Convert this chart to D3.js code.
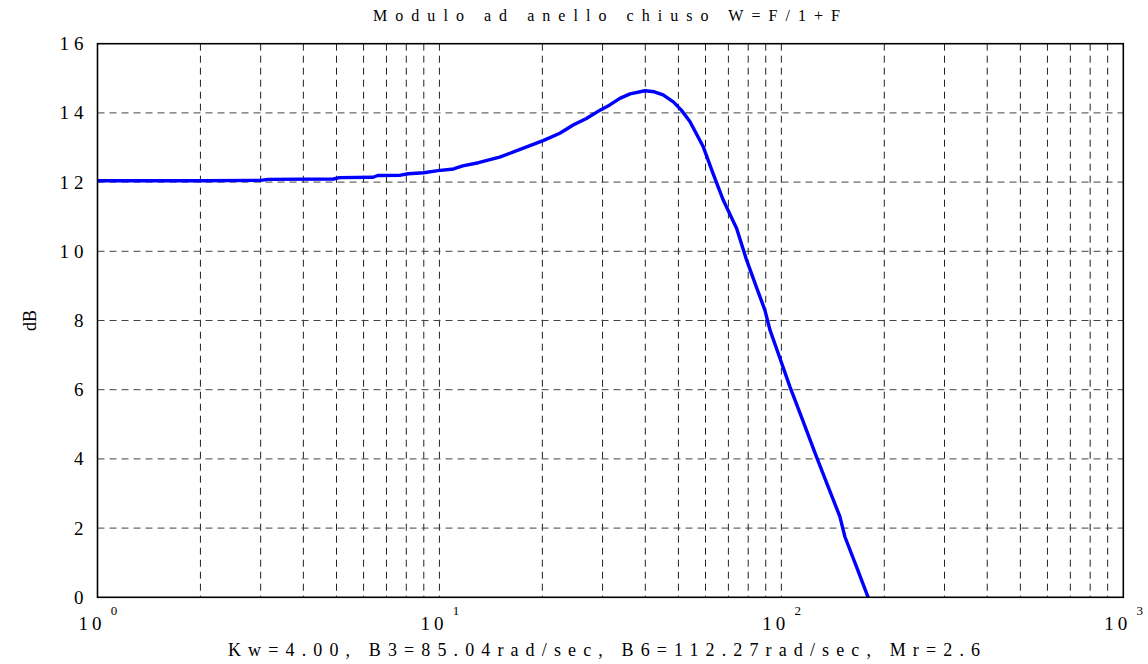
<!DOCTYPE html>
<html>
<head>
<meta charset="utf-8">
<script src="https://cdn.jsdelivr.net/npm/d3@7"></script>
<style>
  html, body { margin: 0; padding: 0; background: #fff; }
  svg { display: block; }
</style>
</head>
<body>
<svg id="chart" width="1148" height="664"></svg>
<script>
// ---- data ----
const freq = [1, 2, 3, 3.15, 4.9, 5.1, 6.4, 6.6, 7.7, 8.1, 9, 9.9, 11, 11.7, 13, 15, 17.6, 20.1, 22.5, 24.6, 26.9, 29.5, 31.5, 33.7, 36.1, 39.9, 42.5, 45.1, 48.3, 51, 54, 59.1, 63.1, 67.6, 74, 79.1, 85, 89.5, 92.6, 98, 105.9, 116, 126.7, 138, 148.3, 153.4, 166, 179.4];
const dB = [12.04, 12.04, 12.05, 12.08, 12.09, 12.13, 12.14, 12.19, 12.2, 12.24, 12.27, 12.33, 12.38, 12.47, 12.56, 12.72, 12.98, 13.2, 13.41, 13.65, 13.84, 14.08, 14.23, 14.42, 14.55, 14.64, 14.61, 14.52, 14.32, 14.08, 13.75, 13.02, 12.25, 11.48, 10.66, 9.75, 8.9, 8.3, 7.73, 7.04, 6.09, 5.06, 4.06, 3.12, 2.33, 1.75, 0.87, 0.0];
const yTicks = [0, 2, 4, 6, 8, 10, 12, 14, 16];
const xMajor = [1, 10, 100, 1000];
const xExponents = ["0", "1", "2", "3"];
const titleText = "Modulo ad anello chiuso W=F/1+F";
const xLabelText = "Kw=4.00, B3=85.04rad/sec, B6=112.27rad/sec, Mr=2.6";
const yLabelText = "dB";

const FONT = "Liberation Serif";

// ---- layout ----
const L = 97.5, R = 1123.3, T = 43.7, B = 597.3;
const svg = d3.select("#chart");
const x = d3.scaleLog().domain([1, 1000]).range([L, R]);
const y = d3.scaleLinear().domain([0, 16]).range([B, T]);

const xGrid = [];
for (let dec = 1; dec < 1000; dec *= 10) {
  for (let m = 1; m <= 9; m++) {
    const v = dec * m;
    if (v > 1 && v < 1000) xGrid.push(v);
  }
}

const grid = svg.append("g");
grid.selectAll("line.v").data(xGrid).enter().append("line")
  .attr("x1", d => x(d)).attr("x2", d => x(d))
  .attr("y1", T).attr("y2", B)
  .attr("stroke", "#222").attr("stroke-width", 1)
  .attr("stroke-dasharray", "7,5");
grid.selectAll("line.h").data(yTicks.filter(d => d > 0 && d < 16)).enter().append("line")
  .attr("x1", L).attr("x2", R)
  .attr("y1", d => y(d)).attr("y2", d => y(d))
  .attr("stroke", "#444").attr("stroke-width", 1)
  .attr("stroke-dasharray", "7,5");

// curve
const line = d3.line().x((d, i) => x(freq[i])).y(d => y(d));
svg.append("path").datum(dB)
  .attr("d", line)
  .attr("fill", "none")
  .attr("stroke", "#0000ff")
  .attr("stroke-width", 3.4)
  .attr("stroke-linejoin", "round");

// box
svg.append("rect")
  .attr("x", L).attr("y", T).attr("width", R - L).attr("height", B - T)
  .attr("fill", "none").attr("stroke", "#000").attr("stroke-width", 1.6);

// y axis labels
const yAxis = d3.axisLeft(y).tickValues(yTicks).tickSize(0).tickPadding(14)
  .tickFormat(d3.format("d"));
const gy = svg.append("g").attr("transform", `translate(${L},0)`).call(yAxis)
  .attr("font-family", FONT).attr("font-size", 19);
gy.select(".domain").remove();
gy.selectAll("text")
  .attr("fill", "#000")
  .style("letter-spacing", "5px")
  .attr("dx", "5px");

// x axis labels with superscripts
const xAxis = d3.axisBottom(x).tickValues(xMajor).tickSize(0).tickFormat(() => "");
const gx = svg.append("g").attr("transform", `translate(0,${B})`).call(xAxis)
  .attr("font-family", FONT).attr("font-size", 19);
gx.select(".domain").remove();
gx.selectAll(".tick").each(function (d, i) {
  const t = d3.select(this).select("text")
    .attr("y", 0).attr("dy", null)
    .attr("fill", "#000")
    .attr("text-anchor", "middle");
  t.append("tspan").attr("x", -6).attr("y", 33)
    .attr("font-size", 19).style("letter-spacing", "4px").text("10");
  t.append("tspan").attr("x", 16).attr("y", 18)
    .attr("font-size", 13).text(xExponents[i]);
});

// title
svg.append("text")
  .attr("x", 373).attr("y", 21)
  .attr("textLength", 467).attr("lengthAdjust", "spacing")
  .attr("font-family", FONT).attr("font-size", 16)
  .text(titleText);

// x label
svg.append("text")
  .attr("x", 228).attr("y", 656)
  .attr("textLength", 752).attr("lengthAdjust", "spacing")
  .attr("font-family", FONT).attr("font-size", 18)
  .text(xLabelText);

// y label
svg.append("text")
  .attr("transform", `translate(36,${(T + B) / 2}) rotate(-90)`)
  .attr("text-anchor", "middle")
  .attr("font-family", FONT).attr("font-size", 18)
  .text(yLabelText);
</script>
</body>
</html>
